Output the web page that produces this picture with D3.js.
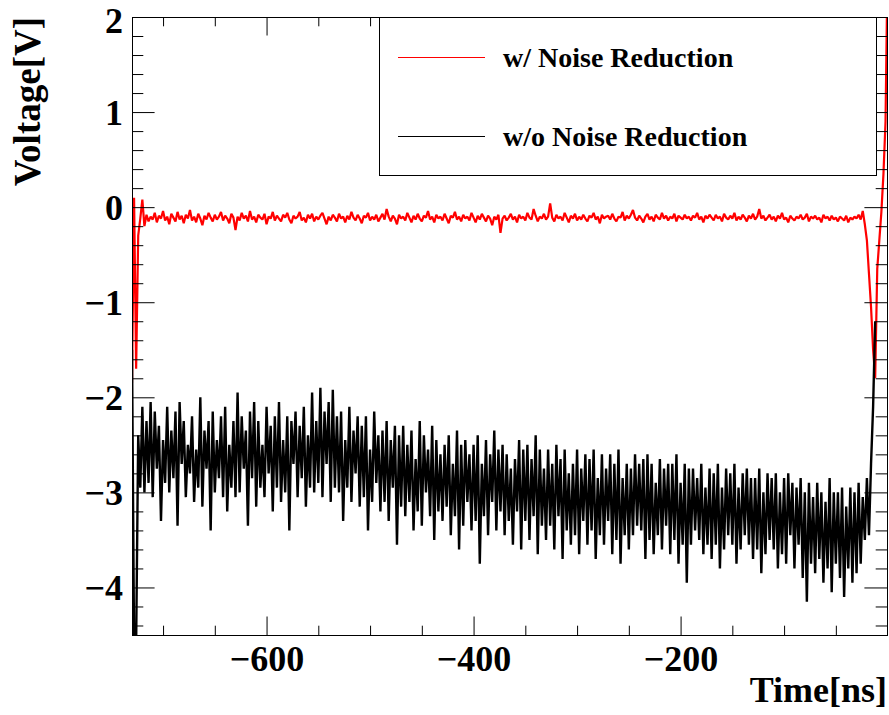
<!DOCTYPE html>
<html><head><meta charset="utf-8">
<script src="https://cdn.jsdelivr.net/npm/d3@7"></script>
<style>
body{margin:0;background:#fff}
svg{display:block}
text{font-family:"Liberation Serif","Times New Roman",serif;font-weight:bold;fill:#000}
</style>
</head><body>
<svg id="chart" width="889" height="715"></svg>
<script>
// ---------------- data ----------------
const timeStartNs = -730;      // first sample time [ns]
const sampleStepNs = 2;        // sample spacing [ns]

// w/ Noise Reduction (red)
const redVoltage = [
-1.85, 0.10,-1.70,-0.30,-0.12, 0.08,-0.20,-0.08,-0.15,-0.10,
-0.13,-0.06,-0.16,-0.09,-0.12,-0.04,-0.14,-0.10,-0.18,-0.07,
-0.11,-0.15,-0.05,-0.13,-0.09,-0.17,-0.08,-0.12,-0.03,-0.14,
-0.10,-0.16,-0.07,-0.12,-0.19,-0.09,-0.13,-0.06,-0.11,-0.15,
-0.08,-0.13,-0.10,-0.05,-0.14,-0.09,-0.12,-0.17,-0.07,-0.11,
-0.24,-0.10,-0.14,-0.06,-0.12,-0.09,-0.15,-0.04,-0.13,-0.10,
-0.16,-0.08,-0.11,-0.13,-0.07,-0.18,-0.10,-0.12,-0.05,-0.14,
-0.09,-0.12,-0.15,-0.08,-0.11,-0.06,-0.13,-0.17,-0.09,-0.12,
-0.10,-0.05,-0.14,-0.11,-0.16,-0.08,-0.12,-0.07,-0.15,-0.10,
-0.13,-0.09,-0.06,-0.12,-0.18,-0.10,-0.14,-0.08,-0.11,-0.15,
-0.07,-0.12,-0.10,-0.16,-0.09,-0.13,-0.05,-0.11,-0.14,-0.08,
-0.12,-0.17,-0.09,-0.11,-0.06,-0.14,-0.10,-0.13,-0.08,-0.15,
-0.11,-0.07,-0.13,-0.02,-0.10,-0.15,-0.09,-0.12,-0.18,-0.08,
-0.12,-0.10,-0.14,-0.06,-0.11,-0.16,-0.09,-0.13,-0.07,-0.12,
-0.15,-0.09,-0.11,-0.04,-0.13,-0.10,-0.16,-0.08,-0.12,-0.10,
-0.14,-0.07,-0.12,-0.17,-0.09,-0.11,-0.05,-0.13,-0.10,-0.15,
-0.08,-0.12,-0.10,-0.14,-0.06,-0.11,-0.16,-0.09,-0.13,-0.07,
-0.11,-0.15,-0.09,-0.12,-0.19,-0.10,-0.13,-0.08,-0.27,-0.12,
-0.09,-0.14,-0.11,-0.07,-0.13,-0.10,-0.16,-0.08,-0.12,-0.10,
-0.14,-0.06,-0.11,-0.13,-0.02,-0.09,-0.15,-0.10,-0.12,-0.07,
-0.13,-0.10, 0.04,-0.11,-0.15,-0.08,-0.12,-0.10,-0.14,-0.06,
-0.11,-0.16,-0.09,-0.12,-0.07,-0.14,-0.10,-0.13,-0.08,-0.12,
-0.15,-0.09,-0.11,-0.06,-0.13,-0.10,-0.17,-0.08,-0.12,-0.10,
-0.09,-0.13,-0.07,-0.12,-0.15,-0.10,-0.11,-0.05,-0.14,-0.09,
-0.12,-0.08,-0.03,-0.11,-0.14,-0.09,-0.12,-0.16,-0.10,-0.07,
-0.13,-0.10,-0.15,-0.08,-0.11,-0.13,-0.06,-0.12,-0.09,-0.14,
-0.10,-0.12,-0.07,-0.15,-0.09,-0.11,-0.13,-0.08,-0.12,-0.10,
-0.14,-0.09,-0.11,-0.06,-0.13,-0.10,-0.16,-0.09,-0.12,-0.08,
-0.11,-0.14,-0.08,-0.12,-0.10,-0.15,-0.07,-0.11,-0.13,-0.09,
-0.12,-0.06,-0.14,-0.10,-0.13,-0.08,-0.11,-0.15,-0.09,-0.12,
-0.07,-0.13,-0.10,-0.02,-0.12,-0.09,-0.14,-0.11,-0.08,-0.13,
-0.10,-0.15,-0.09,-0.12,-0.06,-0.13,-0.11,-0.16,-0.09,-0.12,
-0.14,-0.10,-0.12,-0.08,-0.13,-0.11,-0.07,-0.15,-0.10,-0.12,
-0.09,-0.13,-0.11,-0.16,-0.08,-0.12,-0.10,-0.14,-0.09,-0.13,
-0.11,-0.15,-0.10,-0.12,-0.14,-0.09,-0.16,-0.11,-0.13,-0.10,
-0.12,-0.08,-0.13,-0.04,-0.18,-0.35,-0.70,-1.05,-1.50,-1.80,
-0.65,-0.35,-0.05, 0.35, 0.90, 2.60
];

// w/o Noise Reduction (black)
const blackVoltage = [
-1.50,-4.60,-4.60,-2.40,-2.95,-2.10,-3.00,-2.25,-2.90,-2.05,
-3.05,-2.15,-2.75,-2.30,-3.30,-2.45,-2.90,-2.10,-3.00,-2.35,
-2.85,-2.15,-3.35,-2.05,-2.70,-2.25,-3.05,-2.50,-2.80,-2.20,
-3.10,-2.55,-2.95,-2.00,-3.15,-2.35,-2.75,-2.25,-3.40,-2.15,
-3.00,-2.45,-2.85,-2.20,-3.05,-2.10,-3.20,-2.50,-2.95,-2.25,
-3.05,-1.95,-3.00,-2.20,-2.75,-2.35,-3.35,-2.15,-2.85,-2.05,
-3.15,-2.25,-2.95,-2.50,-3.05,-2.10,-2.80,-2.30,-3.20,-2.20,
-2.95,-2.05,-3.10,-2.45,-3.00,-2.20,-3.40,-2.25,-2.70,-2.15,
-3.05,-2.30,-2.85,-2.10,-3.15,-2.40,-2.95,-1.95,-3.00,-2.25,
-2.90,-1.90,-3.05,-2.15,-2.70,-2.05,-3.10,-1.92,-2.95,-2.20,
-3.00,-2.15,-3.30,-2.45,-2.95,-2.10,-3.10,-2.35,-2.80,-2.20,
-3.15,-2.30,-3.05,-2.20,-3.40,-2.55,-3.10,-2.15,-2.90,-2.40,
-3.20,-2.35,-3.10,-2.25,-3.30,-2.45,-2.95,-2.30,-3.55,-2.40,
-3.15,-2.30,-3.25,-2.50,-3.10,-2.35,-3.40,-2.65,-3.20,-2.25,
-3.35,-2.40,-3.00,-2.55,-3.25,-2.30,-3.50,-2.45,-3.20,-2.60,
-3.30,-2.50,-3.15,-2.40,-3.45,-2.70,-3.25,-2.35,-3.60,-2.50,
-3.35,-2.45,-3.10,-2.60,-3.40,-2.50,-3.30,-2.40,-3.75,-2.70,
-3.25,-2.45,-3.45,-2.60,-3.10,-2.35,-3.40,-2.55,-3.20,-2.50,
-3.45,-2.60,-3.30,-2.75,-3.55,-2.65,-3.20,-2.45,-3.60,-2.55,
-3.30,-2.50,-3.50,-2.65,-3.25,-2.40,-3.65,-2.55,-3.35,-2.75,
-3.50,-2.55,-3.35,-2.70,-3.60,-2.50,-3.25,-2.65,-3.70,-2.55,
-3.40,-2.80,-3.55,-2.70,-3.45,-2.55,-3.65,-2.75,-3.30,-2.60,
-3.55,-2.65,-3.40,-2.55,-3.70,-2.85,-3.45,-2.60,-3.55,-2.75,
-3.30,-2.60,-3.65,-2.70,-3.50,-2.55,-3.75,-2.85,-3.45,-2.70,
-3.60,-2.75,-3.45,-2.60,-3.35,-2.70,-3.40,-2.65,-3.70,-2.60,
-3.50,-2.70,-3.65,-2.90,-3.45,-2.65,-3.60,-2.75,-3.35,-2.70,
-3.65,-2.70,-3.50,-2.60,-3.75,-2.90,-3.55,-2.70,-3.95,-2.75,
-3.55,-2.75,-3.40,-2.85,-3.50,-2.70,-3.65,-2.95,-3.55,-2.75,
-3.70,-2.80,-3.55,-2.70,-3.80,-2.95,-3.60,-2.75,-3.45,-2.80,
-3.55,-2.70,-3.75,-2.95,-3.60,-2.80,-3.45,-2.75,-3.55,-2.85,
-3.70,-2.85,-3.60,-2.75,-3.85,-3.00,-3.65,-2.80,-3.50,-2.85,
-3.60,-2.80,-3.80,-3.00,-3.65,-2.85,-3.75,-2.80,-3.45,-2.90,
-3.80,-2.95,-3.55,-2.85,-3.90,-3.00,-4.15,-2.90,-3.75,-3.05,
-3.85,-2.90,-3.70,-3.00,-3.95,-3.10,-3.80,-2.85,-4.05,-3.00,
-3.75,-3.00,-3.90,-2.95,-4.10,-3.15,-3.80,-2.95,-3.95,-3.00,
-3.85,-2.90,-3.75,-3.05,-3.50,-2.85,-3.45,-2.70,-2.10,-1.20
];

const xDomain = [-730, 0];
const yDomain = [-4.5, 2];
const xMajorTicks = [-600, -400, -200];
const xMajorLabels = ["\u2212600", "\u2212400", "\u2212200"];
const xMinorTicks = [-700, -650, -550, -500, -450, -350, -300, -250, -150, -100, -50];
const yMajorTicks = [-4, -3, -2, -1, 0, 1, 2];
const yMajorLabels = ["\u22124", "\u22123", "\u22122", "\u22121", "0", "1", "2"];
const yMinorTicks = [-4.4,-4.2,-3.8,-3.6,-3.4,-3.2,-2.8,-2.6,-2.4,-2.2,-1.8,-1.6,-1.4,-1.2,
                     -0.8,-0.6,-0.4,-0.2,0.2,0.4,0.6,0.8,1.2,1.4,1.6,1.8];
const xTitle = "Time[ns]";
const yTitle = "Voltage[V]";
const legendLabels = ["w/ Noise Reduction", "w/o Noise Reduction"];
const seriesColors = ["#ff0000", "#000000"];

// ---------------- layout ----------------
const L = 132, R = 887, T = 17, B = 635;
const svg = d3.select("#chart");
const x = d3.scaleLinear().domain(xDomain).range([L, R + 0.6]);
const y = d3.scaleLinear().domain(yDomain).range([B, T]);

const toPoints = arr => arr.map((v, i) => ({t: timeStartNs + i * sampleStepNs, v}));
const series = [
  {name: legendLabels[0], color: seriesColors[0], data: toPoints(redVoltage), width: 2.2},
  {name: legendLabels[1], color: seriesColors[1], data: toPoints(blackVoltage), width: 2.4}
];

svg.append("defs").append("clipPath").attr("id", "frameClip")
  .append("rect").attr("x", L).attr("y", T).attr("width", R - L).attr("height", B - T);

const line = d3.line().x(d => x(d.t)).y(d => y(d.v));
const gData = svg.append("g").attr("clip-path", "url(#frameClip)");
series.forEach(s => {
  gData.append("path").datum(s.data)
    .attr("fill", "none").attr("stroke", s.color)
    .attr("stroke-width", s.width).attr("stroke-linejoin", "bevel")
    .attr("d", line);
});

// ---------------- axes ----------------
const xMajLen = 18.5, xMinLen = 9.3, yMajLen = 22.6, yMinLen = 11.3;
function styleAxis(g) {
  g.select(".domain").remove();
  g.selectAll(".tick line").attr("stroke", "#000").attr("stroke-width", 1);
}
// bottom
const gxb = svg.append("g").attr("transform", `translate(0,${B})`)
  .call(d3.axisBottom(x).tickValues(xMajorTicks).tickSize(-xMajLen)
        .tickFormat((d, i) => xMajorLabels[i]));
styleAxis(gxb);
gxb.selectAll(".tick text").attr("y", 36).attr("dy", 0)
  .attr("font-size", 36).attr("font-family", null);
svg.append("g").attr("transform", `translate(0,${B})`)
  .call(d3.axisBottom(x).tickValues(xMinorTicks).tickSize(-xMinLen).tickFormat(""))
  .call(styleAxis);
// top
svg.append("g").attr("transform", `translate(0,${T})`)
  .call(d3.axisTop(x).tickValues(xMajorTicks).tickSize(-xMajLen).tickFormat(""))
  .call(styleAxis);
svg.append("g").attr("transform", `translate(0,${T})`)
  .call(d3.axisTop(x).tickValues(xMinorTicks).tickSize(-xMinLen).tickFormat(""))
  .call(styleAxis);
// left
const gyl = svg.append("g").attr("transform", `translate(${L},0)`)
  .call(d3.axisLeft(y).tickValues(yMajorTicks).tickSize(-yMajLen)
        .tickFormat((d, i) => yMajorLabels[i]));
styleAxis(gyl);
gyl.selectAll(".tick text").attr("x", -9)
  .attr("dy", d => d === 2 ? 15.5 : 12.5)
  .attr("font-size", 36).attr("font-family", null).attr("text-anchor", "end");
svg.append("g").attr("transform", `translate(${L},0)`)
  .call(d3.axisLeft(y).tickValues(yMinorTicks).tickSize(-yMinLen).tickFormat(""))
  .call(styleAxis);
// right
svg.append("g").attr("transform", `translate(${R},0)`)
  .call(d3.axisRight(y).tickValues(yMajorTicks).tickSize(-yMajLen).tickFormat(""))
  .call(styleAxis);
svg.append("g").attr("transform", `translate(${R},0)`)
  .call(d3.axisRight(y).tickValues(yMinorTicks).tickSize(-yMinLen).tickFormat(""))
  .call(styleAxis);

// frame
svg.append("rect").attr("x", L + 0.5).attr("y", T + 0.5)
  .attr("width", R - L).attr("height", B - T)
  .attr("fill", "none").attr("stroke", "#000").attr("stroke-width", 1);

// titles
svg.append("text").attr("x", R).attr("y", 702)
  .attr("text-anchor", "end").attr("font-size", 36).text(xTitle);
svg.append("text").attr("transform", `translate(40,${T}) rotate(-90)`)
  .attr("text-anchor", "end").attr("font-size", 37).text(yTitle);

// ---------------- legend ----------------
const lg = svg.append("g");
lg.append("rect").attr("x", 379.5).attr("y", T + 0.5).attr("width", 497).attr("height", 158)
  .attr("fill", "#fff").attr("stroke", "#000").attr("stroke-width", 1);
const legendRowsY = [57, 136];
series.forEach((s, i) => {
  lg.append("line").attr("x1", 398).attr("x2", 485)
    .attr("y1", legendRowsY[i] + 0.5).attr("y2", legendRowsY[i] + 0.5)
    .attr("stroke", s.color).attr("stroke-width", 1);
  lg.append("text").attr("x", 503).attr("y", legendRowsY[i] + 9.5)
    .attr("font-size", 28).text(s.name);
});
</script>
</body></html>
